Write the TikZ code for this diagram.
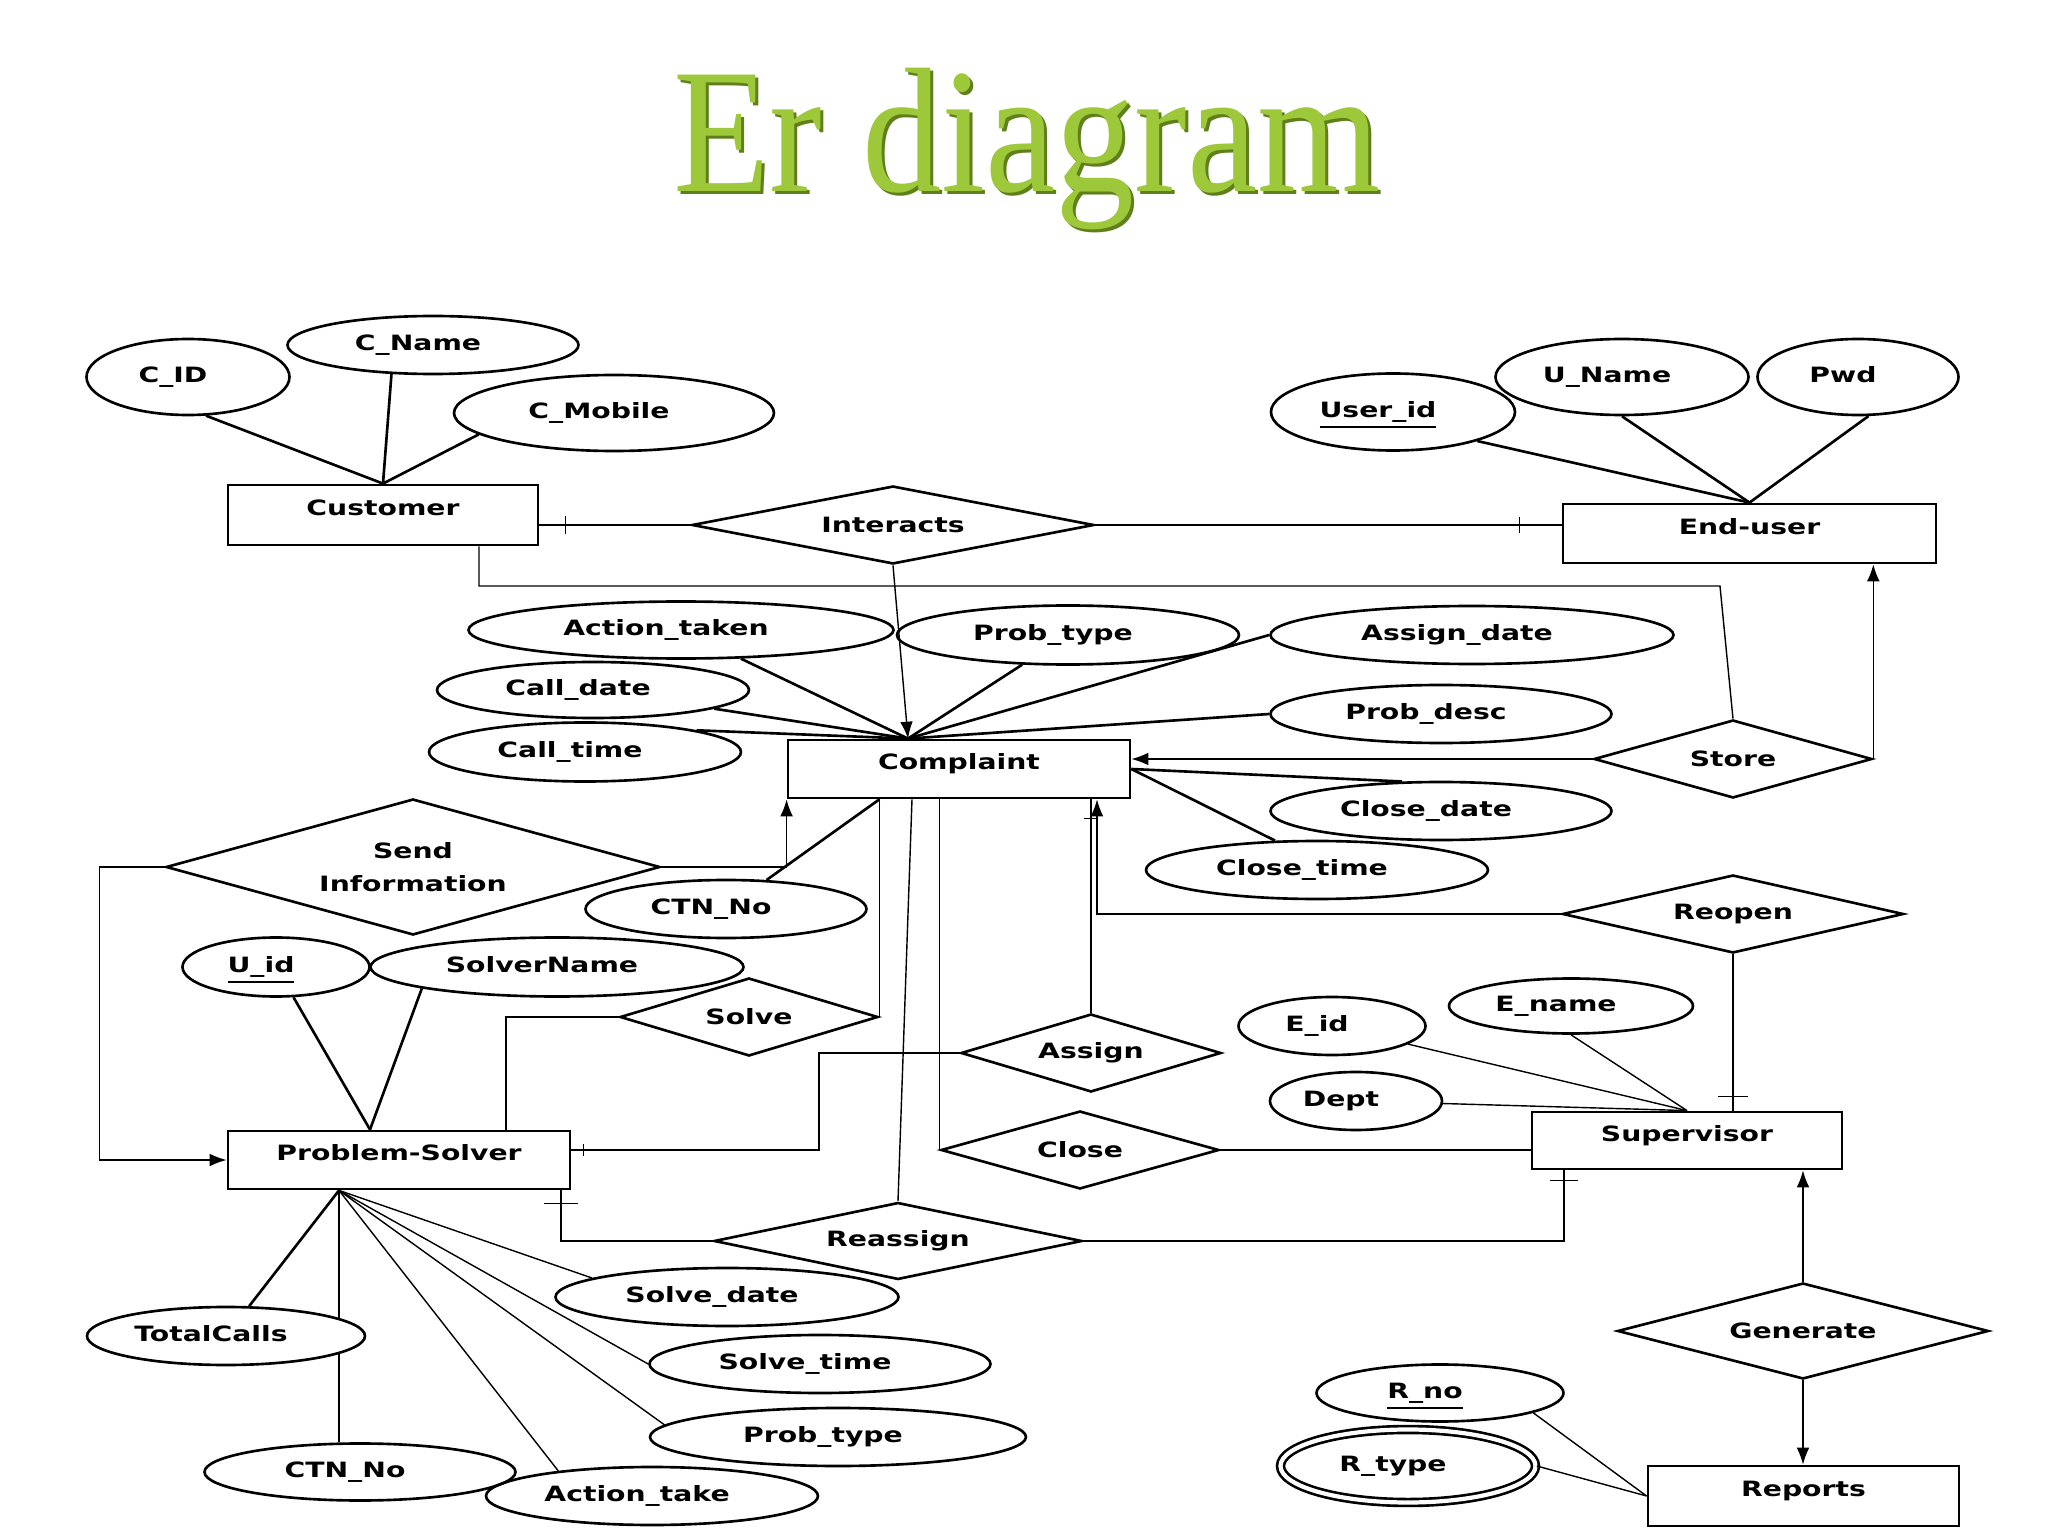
\documentclass[tikz,border=0pt]{standalone}
\usepackage{fontspec}
\setmainfont{DejaVu Sans}
\newfontfamily\erfont[FakeStretch=1.34]{DejaVu Sans}
\newfontfamily\titlefont[FakeStretch=0.89]{Liberation Serif}
\usepackage{xcolor}
\usepackage{tikz}
\usetikzlibrary{calc, shapes.geometric, arrows.meta, backgrounds}

\definecolor{titlegreen}{HTML}{9CC83A}
\definecolor{titleshade}{HTML}{5E7F1A}

\begin{document}
\begin{tikzpicture}[>={Latex[length=4.8pt,width=3.6pt]}, line width=0.75pt,
    every node/.style={font=\erfont\bfseries\fontsize{6pt}{7.2pt}\selectfont},
    entity/.style={draw, rectangle, line width=0.8pt, inner sep=0pt,
        text height=4.4pt, text depth=4pt},
    attr/.style={draw, ellipse, inner sep=0pt, text height=4.4pt, text depth=1.4pt,
        execute at end node={\hspace*{0.3cm}}},
    rel/.style={draw, diamond, inner sep=0pt, aspect=3}]

    \useasboundingbox (0,0) rectangle (20.48,-15.36);

    % =================================================================
    % 1. TITLE
    % =================================================================
    \node[font=\titlefont\fontsize{50.6pt}{60pt}\selectfont, text=titleshade,
        anchor=base] (titleshadow) at (10.30,-1.95) {Er diagram};
    \node[font=\titlefont\fontsize{50.6pt}{60pt}\selectfont, text=titlegreen,
        anchor=base] (title) at (10.27,-1.92) {Er diagram};

    % =================================================================
    % 2. ENTITIES
    % =================================================================
    \node[entity, minimum width=3.10cm, minimum height=0.60cm] (customer) at (3.83,-5.15) {Customer};
    \node[entity, minimum width=3.73cm, minimum height=0.59cm] (enduser) at (17.495,-5.335) {End-user};
    \node[entity, minimum width=3.42cm, minimum height=0.58cm] (complaint) at (9.59,-7.69) {Complaint};
    \node[entity, minimum width=3.42cm, minimum height=0.58cm] (solver) at (3.99,-11.60) {Problem-Solver};
    \node[entity, minimum width=3.10cm, minimum height=0.57cm] (supervisor) at (16.87,-11.405) {Supervisor};
    \node[entity, minimum width=3.11cm, minimum height=0.60cm] (reports) at (18.035,-14.96) {Reports};

    % =================================================================
    % 3. RELATIONSHIPS
    % =================================================================
    \node[rel, minimum width=4.02cm, minimum height=0.78cm] (interacts) at (8.93,-5.25) {Interacts};
    \node[rel, minimum width=2.78cm, minimum height=0.78cm] (store) at (17.33,-7.59) {Store};
    \node[rel, minimum width=4.94cm, minimum height=1.36cm, align=center] (sendinfo) at (4.13,-8.67) {Send\\[2.2pt]Information};
    \node[rel, minimum width=2.58cm, minimum height=0.78cm] (solve) at (7.49,-10.17) {Solve};
    \node[rel, minimum width=2.60cm, minimum height=0.78cm] (assign) at (10.91,-10.53) {Assign};
    \node[rel, minimum width=2.78cm, minimum height=0.78cm] (close) at (10.80,-11.50) {Close};
    \node[rel, minimum width=3.68cm, minimum height=0.77cm] (reassign) at (8.98,-12.41) {Reassign};
    \node[rel, minimum width=3.41cm, minimum height=0.78cm] (reopen) at (17.33,-9.14) {Reopen};
    \node[rel, minimum width=3.71cm, minimum height=0.96cm] (generate) at (18.03,-13.31) {Generate};

    % =================================================================
    % 4. ATTRIBUTES
    % =================================================================
    % Customer
    \node[attr, minimum width=2.03cm, minimum height=0.76cm] (cid) at (1.88,-3.77) {C\_ID};
    \node[attr, minimum width=2.91cm, minimum height=0.58cm] (cname) at (4.33,-3.45) {C\_Name};
    \node[attr, minimum width=3.20cm, minimum height=0.76cm] (cmobile) at (6.14,-4.13) {C\_Mobile};
    % End-user
    \node[attr, minimum width=2.44cm, minimum height=0.77cm] (userid) at (13.93,-4.12) {\underline{User\_id}};
    \node[attr, minimum width=2.53cm, minimum height=0.76cm] (uname) at (16.22,-3.77) {U\_Name};
    \node[attr, minimum width=2.01cm, minimum height=0.76cm] (pwd) at (18.58,-3.77) {Pwd};
    % Complaint
    \node[attr, minimum width=4.25cm, minimum height=0.57cm] (actiontaken) at (6.81,-6.30) {Action\_taken};
    \node[attr, minimum width=3.12cm, minimum height=0.56cm] (calldate) at (5.93,-6.90) {Call\_date};
    \node[attr, minimum width=3.12cm, minimum height=0.59cm] (calltime) at (5.85,-7.52) {Call\_time};
    \node[attr, minimum width=3.42cm, minimum height=0.59cm] (probtype) at (10.68,-6.35) {Prob\_type};
    \node[attr, minimum width=4.03cm, minimum height=0.58cm] (assigndate) at (14.72,-6.35) {Assign\_date};
    \node[attr, minimum width=3.41cm, minimum height=0.58cm] (probdesc) at (14.41,-7.14) {Prob\_desc};
    \node[attr, minimum width=3.41cm, minimum height=0.58cm] (closedate) at (14.41,-8.11) {Close\_date};
    \node[attr, minimum width=3.42cm, minimum height=0.58cm] (closetime) at (13.17,-8.70) {Close\_time};
    \node[attr, minimum width=2.81cm, minimum height=0.58cm] (ctnno) at (7.26,-9.09) {CTN\_No};
    % Problem-Solver
    \node[attr, minimum width=1.87cm, minimum height=0.59cm] (uid) at (2.76,-9.67) {\underline{U\_id}};
    \node[attr, minimum width=3.73cm, minimum height=0.59cm] (solvername) at (5.57,-9.67) {SolverName};
    \node[attr, minimum width=2.78cm, minimum height=0.58cm, fill=white] (totalcalls) at (2.26,-13.36) {TotalCalls};
    \node[attr, minimum width=3.11cm, minimum height=0.57cm] (ctnsolver) at (3.60,-14.72) {CTN\_No};
    \node[attr, minimum width=3.32cm, minimum height=0.58cm] (actiontake) at (6.52,-14.96) {Action\_take};
    \node[attr, minimum width=3.43cm, minimum height=0.58cm] (solvedate) at (7.27,-12.97) {Solve\_date};
    \node[attr, minimum width=3.41cm, minimum height=0.58cm] (solvetime) at (8.20,-13.64) {Solve\_time};
    \node[attr, minimum width=3.76cm, minimum height=0.58cm] (probtypesolver) at (8.38,-14.37) {Prob\_type};
    % Supervisor
    \node[attr, minimum width=1.87cm, minimum height=0.58cm] (eid) at (13.32,-10.26) {E\_id};
    \node[attr, minimum width=2.44cm, minimum height=0.55cm] (ename) at (15.71,-10.06) {E\_name};
    \node[attr, minimum width=1.72cm, minimum height=0.58cm] (dept) at (13.56,-11.01) {Dept};
    % Reports
    \node[attr, minimum width=2.47cm, minimum height=0.57cm] (rno) at (14.40,-13.93) {\underline{R\_no}};
    \node[attr, double, double distance=1.2pt, minimum width=2.55cm, minimum height=0.73cm] (rtype) at (14.08,-14.66) {R\_type};

    % =================================================================
    % 5. HELPER POINTS ON THE ENTITIES
    % =================================================================
    \coordinate (cTop) at ($(complaint.north)+(-0.51,0)$);
    \coordinate (sTop) at ($(solver.north)+(-0.29,0)$);
    \coordinate (sBot) at ($(solver.south)+(-0.60,0)$);
    \coordinate (storeKnee) at (17.20,-5.86);
    \coordinate (assignKnee) at (8.19,-11.50);

    % =================================================================
    % 6. ATTRIBUTE LINES
    % =================================================================
    \draw (cid.-65) -- (customer.north);
    \draw (cname.-145) -- (customer.north);
    \draw (cmobile.-171) -- (customer.north);

    \draw (userid.-19) -- (enduser.north);
    \draw (uname.south) -- (enduser.north);
    \draw (pwd.-75) -- (enduser.north);

    \draw (actiontaken) -- (cTop);
    \draw (calldate) -- (cTop);
    \draw (calltime.11) -- (cTop);
    \draw (probtype) -- (cTop);
    \draw (assigndate.west) -- (cTop);
    \draw (probdesc.west) -- (cTop);
    \draw (closedate.143) -- (complaint.east);
    \draw (closetime.145) -- (complaint.east);
    \draw (ctnno) -- (solve.east |- complaint.south);

    \draw (uid) -- (sTop);
    \draw (solvername.189) -- (sTop);
    \draw (totalcalls) -- (sBot);
    \begin{pgfonlayer}{background}
        \draw (sBot) -- (sBot |- ctnsolver.north);
    \end{pgfonlayer}
    \draw (actiontake.165) -- (sBot);
    \draw (solvedate.172) -- (sBot);
    \draw (solvetime.west) -- (sBot);
    \draw (probtypesolver.176) -- (sBot);

    \draw (eid) -- (supervisor.north);
    \draw (ename.south) -- (supervisor.north);
    \draw (dept) -- (supervisor.north);

    \draw (rno.-12) -- (reports.west);
    \draw (rtype.east) -- (reports.west);

    % =================================================================
    % 7. RELATIONSHIP LINES
    % =================================================================
    % Interacts
    \draw (interacts.west) -- (interacts.west -| customer.east);
    \draw (interacts.east) -- (interacts.east -| enduser.west);
    \draw ($(interacts.west -| customer.east)+(0.26,0.09)$) -- ++(0,-0.18);
    \draw ($(interacts.east -| enduser.west)+(-0.42,0.08)$) -- ++(0,-0.16);
    \draw[->] (interacts.south) -- (cTop);

    % Store
    \draw ($(customer.south)+(0.96,0)$) |- (storeKnee) -- (store.north);
    \draw[->] (store.west) -- (store.west -| complaint.east);
    \draw[->] (store.east) -- (store.east |- enduser.south);

    % Send Information
    \draw[->] (sendinfo.west) -- ++(-0.65,0) |- (solver.west);
    \draw[->] (sendinfo.east) -| (complaint.south west);

    % Solve
    \draw (solve.east) -- (solve.east |- complaint.south);
    \draw (solve.west) -| ($(solver.north)+(1.07,0)$);

    % Assign
    \draw (assign.west) -| (assignKnee) -- (assignKnee -| solver.east);
    \draw ($(assignKnee -| solver.east)+(0.12,0.06)$) -- ++(0,-0.12);
    \draw (assign.north) -- (assign.north |- complaint.south);
    \draw ($(assign.north |- complaint.south)+(-0.07,-0.19)$) -- ++(0.14,0);

    % Reopen
    \draw[->] (reopen.west) -| ($(complaint.south)+(1.38,0)$);
    \draw (reopen.south) -- (reopen.south |- supervisor.north);
    \draw ($(reopen.south |- supervisor.north)+(-0.15,0.14)$) -- ++(0.30,0);

    % Close
    \draw (close.west) -- (close.west |- complaint.south);
    \draw (close.east) -- (close.east -| supervisor.west);

    % Reassign
    \draw (reassign.north) -- ($(complaint.south)+(-0.47,0)$);
    \draw (reassign.west) -| ($(solver.south)+(1.62,0)$);
    \draw ($(solver.south)+(1.45,-0.13)$) -- ++(0.34,0);
    \draw (reassign.east) -| ($(supervisor.south)+(-1.23,0)$);
    \draw ($(supervisor.south)+(-1.37,-0.10)$) -- ++(0.28,0);

    % Generate
    \draw[->] (generate.north) -- (generate.north |- supervisor.south);
    \draw[->] (generate.south) -- (generate.south |- reports.north);

\end{tikzpicture}
\end{document}
